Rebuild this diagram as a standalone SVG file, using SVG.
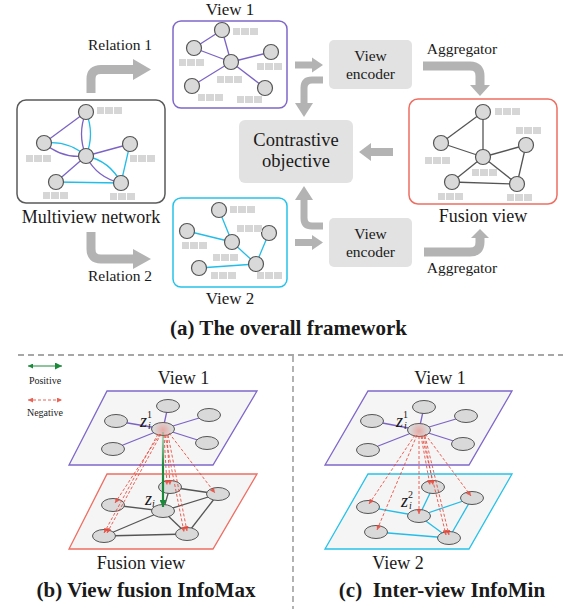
<svg xmlns="http://www.w3.org/2000/svg" width="563" height="609" viewBox="0 0 563 609">
<defs>
<style>
.t{font-family:"Liberation Serif","Times New Roman",serif;fill:#1a1a1a;text-anchor:middle}
.b{font-weight:bold}
.nd{fill:#d9d9d9;stroke:#555;stroke-width:1.2}
.pl{stroke:#7b63c6;stroke-width:1.3;fill:none}
.cl{stroke:#22bde8;stroke-width:1.3;fill:none}
.gl{stroke:#555;stroke-width:1.3;fill:none}
.ga{stroke:#b3b3b3;fill:none}
.gh{fill:#b3b3b3}
.box{fill:#e2e2e2}
.neg{stroke:#e8483a;stroke-width:1;stroke-dasharray:3 2;fill:none;marker-end:url(#rh);opacity:0.85}
.el{fill:#d9d9d9;stroke:#555;stroke-width:1}
.z{font-family:"Liberation Serif","Times New Roman",serif;fill:#1a1a1a}
</style>
<g id="lbl"><rect x="0" y="0" width="7" height="7" fill="#d6d6d6"/><rect x="8" y="0" width="8" height="7" fill="#d6d6d6"/><rect x="17" y="0" width="8" height="7" fill="#d6d6d6"/></g>
<marker id="rh" viewBox="0 0 6 6" refX="6" refY="3" markerWidth="5" markerHeight="5" markerUnits="userSpaceOnUse" orient="auto"><path d="M0,0 L6,3 L0,6 z" fill="#e8483a"/></marker>
<marker id="rhs" viewBox="0 0 6 6" refX="0" refY="3" markerWidth="5" markerHeight="5" markerUnits="userSpaceOnUse" orient="auto"><path d="M6,0 L0,3 L6,6 z" fill="#e8483a"/></marker>
<marker id="gh" viewBox="0 0 6 6" refX="6" refY="3" markerWidth="7" markerHeight="7" markerUnits="userSpaceOnUse" orient="auto"><path d="M0,0 L6,3 L0,6 z" fill="#1a8a3a"/></marker>
<marker id="ghs" viewBox="0 0 6 6" refX="0" refY="3" markerWidth="5" markerHeight="5" markerUnits="userSpaceOnUse" orient="auto"><path d="M6,0 L0,3 L6,6 z" fill="#1a8a3a"/></marker>
<radialGradient id="glow"><stop offset="0" stop-color="#f08a80" stop-opacity="0.6"/><stop offset="1" stop-color="#f08a80" stop-opacity="0"/></radialGradient>
<linearGradient id="gg" gradientUnits="userSpaceOnUse" x1="0" y1="432" x2="0" y2="507"><stop offset="0" stop-color="#1a8a3a" stop-opacity="0.2"/><stop offset="0.45" stop-color="#1a8a3a" stop-opacity="1"/></linearGradient>
</defs>
<rect width="563" height="609" fill="#fff"/>

<!-- (a) overall framework -->
<g id="multiview-network">
<rect x="17" y="100" width="148" height="103" rx="9" fill="#fff" stroke="#5a5a5a" stroke-width="1.5"/>
<line class="pl" x1="86" y1="112" x2="44" y2="143"/>
<path class="pl" d="M86 112 Q77 134 86 156"/>
<path class="cl" d="M86 112 Q95 134 86 156"/>
<path class="cl" d="M44 143 Q68 140 86 156"/>
<path class="pl" d="M44 143 Q62 159 86 156"/>
<line class="pl" x1="86" y1="156" x2="130" y2="144"/>
<line class="cl" x1="130" y1="144" x2="121" y2="183"/>
<line class="pl" x1="86" y1="156" x2="56" y2="182"/>
<line class="cl" x1="56" y1="182" x2="121" y2="183"/>
<path class="cl" d="M86 156 Q110 161 121 183"/>
<path class="pl" d="M86 156 Q97 178 121 183"/>
<circle class="nd" cx="86" cy="112" r="7.5"/>
<circle class="nd" cx="44" cy="143" r="7.5"/>
<circle class="nd" cx="86" cy="156" r="7.5"/>
<circle class="nd" cx="130" cy="144" r="7.5"/>
<circle class="nd" cx="56" cy="182" r="7.5"/>
<circle class="nd" cx="121" cy="183" r="7.5"/>
<use href="#lbl" x="97" y="107"/>
<use href="#lbl" x="26" y="155"/>
<use href="#lbl" x="130" y="155"/>
<use href="#lbl" x="43" y="192"/>
<use href="#lbl" x="110" y="193"/>
<text class="t" x="91" y="223" font-size="18">Multiview network</text>
</g>

<g id="view1">
<text class="t" x="230" y="15" font-size="17">View 1</text>
<rect x="173" y="21" width="114" height="87" rx="8" fill="#fff" stroke="#7e67c9" stroke-width="1.5"/>
<line class="pl" x1="222" y1="30" x2="194" y2="48"/>
<line class="pl" x1="222" y1="30" x2="231" y2="62"/>
<line class="pl" x1="194" y1="48" x2="231" y2="62"/>
<line class="pl" x1="231" y1="62" x2="271" y2="52"/>
<line class="pl" x1="231" y1="62" x2="192" y2="86"/>
<line class="pl" x1="231" y1="62" x2="265" y2="88"/>
<circle class="nd" cx="222" cy="30" r="7.5"/>
<circle class="nd" cx="194" cy="48" r="7.5"/>
<circle class="nd" cx="231" cy="62" r="7.5"/>
<circle class="nd" cx="271" cy="52" r="7.5"/>
<circle class="nd" cx="192" cy="86" r="7.5"/>
<circle class="nd" cx="265" cy="88" r="7.5"/>
<use href="#lbl" x="233" y="28"/>
<use href="#lbl" x="179" y="59"/>
<use href="#lbl" x="217" y="76"/>
<use href="#lbl" x="257" y="63"/>
<use href="#lbl" x="198" y="94"/>
<use href="#lbl" x="237" y="96"/>
</g>

<g id="view2">
<rect x="173" y="198" width="114" height="89" rx="8" fill="#fff" stroke="#25c2ea" stroke-width="1.5"/>
<line class="cl" x1="219" y1="210" x2="232" y2="242"/>
<line class="cl" x1="187" y1="231" x2="232" y2="242"/>
<line class="cl" x1="232" y1="242" x2="256" y2="264"/>
<line class="cl" x1="269" y1="233" x2="256" y2="264"/>
<line class="cl" x1="199" y1="268" x2="256" y2="264"/>
<circle class="nd" cx="219" cy="210" r="7.5"/>
<circle class="nd" cx="187" cy="231" r="7.5"/>
<circle class="nd" cx="232" cy="242" r="7.5"/>
<circle class="nd" cx="269" cy="233" r="7.5"/>
<circle class="nd" cx="256" cy="264" r="7.5"/>
<circle class="nd" cx="199" cy="268" r="7.5"/>
<use href="#lbl" x="230" y="206"/>
<use href="#lbl" x="237" y="225"/>
<use href="#lbl" x="182" y="242"/>
<use href="#lbl" x="213" y="254"/>
<use href="#lbl" x="211" y="272"/>
<use href="#lbl" x="257" y="272"/>
<text class="t" x="230" y="304" font-size="17">View 2</text>
</g>

<g id="view-encoder-1">
<rect class="box" x="329" y="40" width="83" height="49" rx="5"/>
<text class="t" x="370.5" y="61" font-size="15.5">View</text>
<text class="t" x="370.5" y="79" font-size="15.5">encoder</text>
</g>
<g id="view-encoder-2">
<rect class="box" x="329" y="218" width="83" height="49" rx="5"/>
<text class="t" x="370.5" y="239" font-size="15.5">View</text>
<text class="t" x="370.5" y="257" font-size="15.5">encoder</text>
</g>
<g id="contrastive-objective">
<rect class="box" x="239" y="120" width="114" height="63" rx="6"/>
<text class="t" x="296" y="146" font-size="18.5">Contrastive</text>
<text class="t" x="296" y="167" font-size="18.5">objective</text>
</g>

<g id="fusion-view">
<rect x="409" y="99" width="148" height="105" rx="9" fill="#fff" stroke="#ee6e62" stroke-width="1.5"/>
<line class="gl" x1="483" y1="112" x2="441" y2="143"/>
<line class="gl" x1="483" y1="112" x2="483" y2="157"/>
<line class="gl" x1="441" y1="143" x2="483" y2="157"/>
<line class="gl" x1="483" y1="157" x2="526" y2="145"/>
<line class="gl" x1="526" y1="145" x2="517" y2="184"/>
<line class="gl" x1="483" y1="157" x2="452" y2="182"/>
<line class="gl" x1="483" y1="157" x2="517" y2="184"/>
<line class="gl" x1="452" y1="182" x2="517" y2="184"/>
<circle class="nd" cx="483" cy="112" r="7.5"/>
<circle class="nd" cx="441" cy="143" r="7.5"/>
<circle class="nd" cx="483" cy="157" r="7.5"/>
<circle class="nd" cx="526" cy="145" r="7.5"/>
<circle class="nd" cx="452" cy="182" r="7.5"/>
<circle class="nd" cx="517" cy="184" r="7.5"/>
<use href="#lbl" x="495" y="108"/>
<use href="#lbl" x="516" y="127"/>
<use href="#lbl" x="425" y="157"/>
<use href="#lbl" x="472" y="169"/>
<use href="#lbl" x="438" y="193"/>
<use href="#lbl" x="507" y="194"/>
<text class="t" x="483" y="222" font-size="18">Fusion view</text>
</g>

<g id="connectors">
<path class="ga" stroke-width="9" d="M91 93 V79 Q91 69.5 101 69.5 H135"/>
<polygon class="gh" points="133,59 151,69.5 133,80"/>
<path class="ga" stroke-width="9" d="M91 232 V249 Q91 259 101 259 H135"/>
<polygon class="gh" points="133,249 151,259 133,269"/>
<path class="ga" stroke-width="7" d="M295 65 H314"/>
<polygon class="gh" points="312,57.5 323,65 312,72.5"/>
<path class="ga" stroke-width="7" d="M295 242.5 H314"/>
<polygon class="gh" points="312,235 323,242.5 312,250"/>
<path class="ga" stroke-width="7" d="M323 80 H312 Q304 80 304 88 V104"/>
<polygon class="gh" points="295,103 313,103 304,117"/>
<path class="ga" stroke-width="7" d="M323 226 H312 Q304 226 304 218 V199"/>
<polygon class="gh" points="295,200 313,200 304,186"/>
<path class="ga" stroke-width="8" d="M393 152 H370"/>
<polygon class="gh" points="371,143 359,152 371,161"/>
<path class="ga" stroke-width="9" d="M423 66 H470 Q480 66 480 76 V86"/>
<polygon class="gh" points="470,85 490,85 480,96"/>
<path class="ga" stroke-width="9" d="M424 252 H470 Q480 252 480 242 V237"/>
<polygon class="gh" points="471,238 489,238 480,229"/>
<text class="t" x="120" y="50" font-size="15.5">Relation 1</text>
<text class="t" x="120" y="281" font-size="15.5">Relation 2</text>
<text class="t" x="462" y="54" font-size="15.5">Aggregator</text>
<text class="t" x="462" y="273" font-size="15.5">Aggregator</text>
</g>
<text class="t b" x="288.5" y="335" font-size="21">(a) The overall framework</text>

<!-- separators -->
<g id="separators" stroke="#8a8a8a" stroke-width="1.3" stroke-dasharray="6 4">
<line x1="18" y1="355" x2="563" y2="355"/>
<line x1="293" y1="356" x2="293" y2="609"/>
</g>

<!-- legend -->
<g id="legend">
<line x1="28" y1="366" x2="62" y2="366" stroke="#1a8a3a" stroke-width="1" marker-start="url(#ghs)" marker-end="url(#gh)"/>
<text class="t" x="45" y="384" font-size="10">Positive</text>
<line x1="28" y1="400" x2="62" y2="400" class="neg" marker-start="url(#rhs)"/>
<text class="t" x="45" y="416" font-size="10">Negative</text>
</g>

<!-- (b) View fusion InfoMax -->
<g id="b-view1">
<text class="t" x="183.5" y="384" font-size="18">View 1</text>
<polygon points="107,391 257,391 213,465 69,465" fill="#f5f5f5" stroke="#7e67c9" stroke-width="1.3"/>
<line class="pl" x1="168" y1="406" x2="163" y2="429"/>
<line class="pl" x1="116" y1="421" x2="163" y2="429"/>
<line class="pl" x1="163" y1="429" x2="209" y2="415"/>
<line class="pl" x1="163" y1="429" x2="207" y2="443"/>
<line class="pl" x1="163" y1="429" x2="113" y2="449"/>
<ellipse class="el" cx="168" cy="406" rx="11.5" ry="6.5"/>
<ellipse class="el" cx="116" cy="421" rx="11.5" ry="6.5"/>
<ellipse class="el" cx="209" cy="415" rx="11.5" ry="6.5"/>
<ellipse class="el" cx="207" cy="443" rx="11.5" ry="6.5"/>
<ellipse class="el" cx="113" cy="449" rx="11.5" ry="6.5"/>
<ellipse class="el" cx="163" cy="429" rx="11.5" ry="6.5"/>
<text class="z" font-size="18" x="140" y="427"><tspan font-style="italic">z</tspan><tspan font-size="10" dy="-9">1</tspan><tspan font-size="10" font-style="italic" x="148" dy="11">i</tspan></text>
</g>
<g id="b-fusion-view">
<polygon points="107,474 257,474 213,549 69,549" fill="#f5f5f5" stroke="#ee6e62" stroke-width="1.3"/>
<line class="gl" x1="170" y1="487" x2="218" y2="494"/>
<line class="gl" x1="170" y1="487" x2="163" y2="511"/>
<line class="gl" x1="113" y1="505" x2="163" y2="511"/>
<line class="gl" x1="163" y1="511" x2="218" y2="494"/>
<line class="gl" x1="218" y1="494" x2="187" y2="534"/>
<line class="gl" x1="163" y1="511" x2="104" y2="536"/>
<line class="gl" x1="163" y1="511" x2="187" y2="534"/>
<line class="gl" x1="104" y1="536" x2="187" y2="534"/>
<ellipse class="el" cx="170" cy="487" rx="11.5" ry="6.5"/>
<ellipse class="el" cx="113" cy="505" rx="11.5" ry="6.5"/>
<ellipse class="el" cx="218" cy="494" rx="11.5" ry="6.5"/>
<ellipse class="el" cx="104" cy="536" rx="11.5" ry="6.5"/>
<ellipse class="el" cx="187" cy="534" rx="11.5" ry="6.5"/>
<ellipse class="el" cx="163" cy="511" rx="11.5" ry="6.5"/>
<text class="z" font-size="18" x="145" y="505"><tspan font-style="italic">z</tspan><tspan font-size="10" font-style="italic" dy="2">i</tspan></text>
<text class="t" x="141" y="569" font-size="18">Fusion view</text>
</g>
<g id="b-connectors">
<circle cx="163" cy="430" r="9" fill="url(#glow)"/>
<line class="neg" x1="160" y1="434" x2="115" y2="503"/>
<line class="neg" x1="158" y1="434" x2="104" y2="533"/>
<line class="neg" x1="161" y1="434" x2="107" y2="533"/>
<line class="neg" x1="164" y1="435" x2="167" y2="485"/>
<line class="neg" x1="167" y1="435" x2="170" y2="485"/>
<line class="neg" x1="165" y1="435" x2="184" y2="532"/>
<line class="neg" x1="168" y1="435" x2="187" y2="531"/>
<line class="neg" x1="169" y1="433" x2="215" y2="493"/>
<line x1="163" y1="432" x2="163" y2="507" stroke="url(#gg)" stroke-width="2.2" marker-end="url(#gh)"/>
</g>
<text class="t b" x="146" y="597" font-size="21">(b) View fusion InfoMax</text>

<!-- (c) Inter-view InfoMin -->
<g id="c-view1">
<text class="t" x="440" y="384" font-size="18">View 1</text>
<polygon points="368,391 512,391 469,465 325,465" fill="#f5f5f5" stroke="#7e67c9" stroke-width="1.3"/>
<line class="pl" x1="424" y1="407" x2="419" y2="430"/>
<line class="pl" x1="372" y1="421" x2="419" y2="430"/>
<line class="pl" x1="419" y1="430" x2="466" y2="416"/>
<line class="pl" x1="419" y1="430" x2="463" y2="444"/>
<line class="pl" x1="419" y1="430" x2="368" y2="450"/>
<ellipse class="el" cx="424" cy="407" rx="11.5" ry="6.5"/>
<ellipse class="el" cx="372" cy="421" rx="11.5" ry="6.5"/>
<ellipse class="el" cx="466" cy="416" rx="11.5" ry="6.5"/>
<ellipse class="el" cx="463" cy="444" rx="11.5" ry="6.5"/>
<ellipse class="el" cx="368" cy="450" rx="11.5" ry="6.5"/>
<ellipse class="el" cx="419" cy="430" rx="11.5" ry="6.5"/>
<text class="z" font-size="18" x="396" y="427"><tspan font-style="italic">z</tspan><tspan font-size="10" dy="-9">1</tspan><tspan font-size="10" font-style="italic" x="404" dy="11">i</tspan></text>
</g>
<g id="c-view2">
<polygon points="368,474 512,474 469,549 325,549" fill="#f5f5f5" stroke="#25c2ea" stroke-width="1.3"/>
<line class="cl" x1="433" y1="487" x2="419" y2="516"/>
<line class="cl" x1="368" y1="507" x2="419" y2="516"/>
<line class="cl" x1="419" y1="516" x2="472" y2="498"/>
<line class="cl" x1="419" y1="516" x2="449" y2="538"/>
<line class="cl" x1="472" y1="498" x2="449" y2="538"/>
<line class="cl" x1="376" y1="532" x2="449" y2="538"/>
<ellipse class="el" cx="433" cy="487" rx="11.5" ry="6.5"/>
<ellipse class="el" cx="368" cy="507" rx="11.5" ry="6.5"/>
<ellipse class="el" cx="472" cy="498" rx="11.5" ry="6.5"/>
<ellipse class="el" cx="376" cy="532" rx="11.5" ry="6.5"/>
<ellipse class="el" cx="449" cy="538" rx="11.5" ry="6.5"/>
<ellipse class="el" cx="419" cy="516" rx="11.5" ry="6.5"/>
<text class="z" font-size="18" x="401" y="507"><tspan font-style="italic">z</tspan><tspan font-size="10" dy="-9">2</tspan><tspan font-size="10" font-style="italic" x="409" dy="11">i</tspan></text>
<text class="t" x="398" y="569" font-size="18">View 2</text>
</g>
<g id="c-connectors">
<circle cx="419" cy="431" r="9" fill="url(#glow)"/>
<line class="neg" x1="415" y1="435" x2="369" y2="504"/>
<line class="neg" x1="417" y1="435" x2="377" y2="530"/>
<line class="neg" x1="419" y1="436" x2="419" y2="514"/>
<line class="neg" x1="421" y1="436" x2="430" y2="485"/>
<line class="neg" x1="424" y1="436" x2="433" y2="485"/>
<line class="neg" x1="422" y1="436" x2="446" y2="535"/>
<line class="neg" x1="425" y1="436" x2="449" y2="535"/>
<line class="neg" x1="425" y1="434" x2="471" y2="496"/>
</g>
<text class="t b" x="442" y="597" font-size="21" style="white-space:pre">(c)  Inter-view InfoMin</text>
</svg>
